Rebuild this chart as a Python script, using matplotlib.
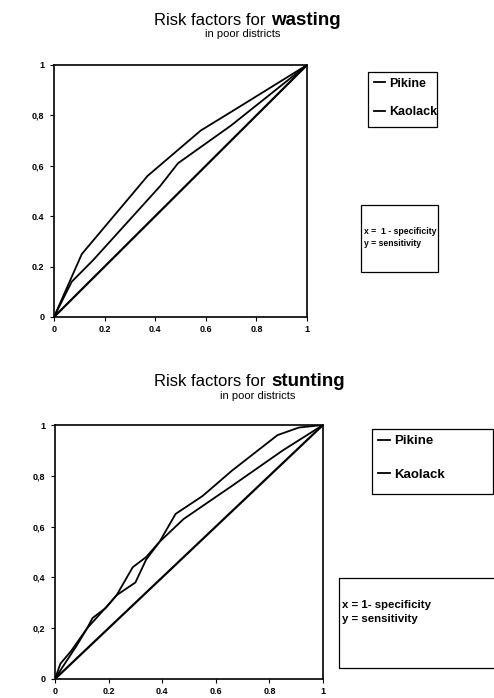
import matplotlib.pyplot as plt
from matplotlib.patches import Rectangle

plt.rcParams['font.family'] = ['Liberation Sans', 'DejaVu Sans']

# wasting ROC curves (x = 1-specificity, y = sensitivity)
w_pik_x = [0, 0.11, 0.37, 0.58, 0.71, 1]
w_pik_y = [0, 0.25, 0.56, 0.74, 0.82, 1]
w_kao_x = [0, 0.07, 0.155, 0.42, 0.49, 0.70, 0.90, 1]
w_kao_y = [0, 0.14, 0.226, 0.52, 0.61, 0.76, 0.92, 1]

# stunting ROC curves
s_pik_x = [0, 0.02, 0.06, 0.12, 0.14, 0.19, 0.23, 0.29, 0.34, 0.39, 0.45, 0.55, 0.66, 0.83, 0.91, 1]
s_pik_y = [0, 0.06, 0.11, 0.20, 0.24, 0.28, 0.33, 0.44, 0.48, 0.54, 0.65, 0.72, 0.82, 0.96, 0.99, 1]
s_kao_x = [0, 0.03, 0.08, 0.12, 0.18, 0.23, 0.30, 0.34, 0.39, 0.48, 0.66, 0.85, 1]
s_kao_y = [0, 0.05, 0.13, 0.20, 0.27, 0.33, 0.38, 0.47, 0.54, 0.63, 0.76, 0.90, 1]

diag = [0, 1]
ticks = [0, 0.2, 0.4, 0.6, 0.8, 1]
w_xlabels = ["0", "0.2", "0.4", "0.6", "0.8", "1"]
w_ylabels = ["0", "0.2", "0.4", "0,6", "0,8", "1"]
s_xlabels = ["0", "0.2", "0.4", "0.6", "0.8", "1"]
s_ylabels = ["0", "0,2", "0,4", "0,6", "0,8", "1"]
names = ["Pikine", "Kaolack"]

W, H = 494, 698
fig = plt.figure(figsize=(W / 100, H / 100), dpi=100)


def px(x0, y0, x1, y1):
    # pixel box -> figure fraction rect
    return [x0 / W, 1 - y1 / H, (x1 - x0) / W, (y1 - y0) / H]


def roc(rect, px_, py_, kx, ky, xl, yl):
    ax = fig.add_axes(rect)
    ax.plot(diag, diag, color='black', lw=1.6)
    l1, = ax.plot(px_, py_, color='black', lw=1.3)
    l2, = ax.plot(kx, ky, color='black', lw=1.3)
    ax.set_xlim(0, 1)
    ax.set_ylim(0, 1)
    ax.set_xticks(ticks)
    ax.set_yticks(ticks)
    ax.set_xticklabels(xl, fontsize=6.5, fontweight='bold')
    ax.set_yticklabels(yl, fontsize=6.5, fontweight='bold')
    ax.tick_params(length=3, width=0.8, pad=4)
    ax.tick_params(axis='x', pad=3)
    for s in ax.spines.values():
        s.set_linewidth(1.2)
    return ax, l1, l2


def title(y, word, ysub, xsub):
    fig.text(270 / W, 1 - y / H, "Risk factors for ", ha='right', va='baseline', fontsize=12)
    fig.text(271 / W, 1 - y / H, word, ha='left', va='baseline', fontsize=13.5, fontweight='bold')
    fig.text(xsub / W, 1 - ysub / H, "in poor districts", ha='center', va='baseline', fontsize=8)


def legend(lines, x0, y0, x1, y1, fs, sp):
    fig.add_artist(Rectangle((x0 / W, 1 - y1 / H), (x1 - x0) / W, (y1 - y0) / H,
                             transform=fig.transFigure, fill=False, lw=0.9, ec='black'))
    fig.legend(lines, names, loc='upper left', bbox_to_anchor=(x0 / W, 1 - y0 / H),
               frameon=False, handlelength=0.9, handletextpad=0.3, labelspacing=sp,
               borderpad=0.45, borderaxespad=0, prop={'weight': 'bold', 'size': fs})


def textbox(x0, y0, x1, y1, tx, ty, txt, fs):
    fig.add_artist(Rectangle((x0 / W, 1 - y1 / H), (x1 - x0) / W, (y1 - y0) / H,
                             transform=fig.transFigure, fill=False, lw=0.9, ec='black'))
    fig.text(tx / W, 1 - ty / H, txt, fontsize=fs, fontweight='bold', va='top', linespacing=1.5)


# wasting panel
title(25, "wasting", 37, 243)
ax1, a1, b1 = roc(px(54, 65, 307, 317), w_pik_x, w_pik_y, w_kao_x, w_kao_y, w_xlabels, w_ylabels)
legend([a1, b1], 368, 72, 437, 127, 9, 1.3)
textbox(361, 205, 438, 272, 364, 227, "x =  1 - specificity\ny = sensitivity", 6.2)

# stunting panel
title(386, "stunting", 399, 258)
ax2, a2, b2 = roc(px(55, 425, 323, 679), s_pik_x, s_pik_y, s_kao_x, s_kao_y, s_xlabels, s_ylabels)
legend([a2, b2], 372, 429, 493, 494, 9.5, 1.6)
textbox(339, 578, 500, 668, 342, 600, "x = 1- specificity\ny = sensitivity", 8.2)

fig.savefig("out.png", dpi=100)
